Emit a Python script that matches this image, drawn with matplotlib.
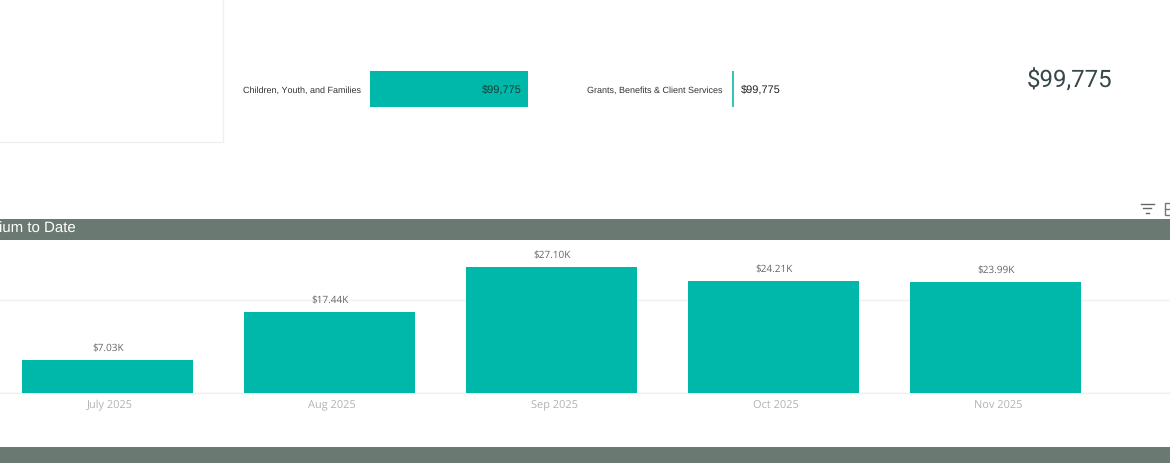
import matplotlib
matplotlib.use("Agg")
import matplotlib.pyplot as plt
from matplotlib.patches import Rectangle
from matplotlib.transforms import ScaledTranslation

# Data
months = ["July 2025", "Aug 2025", "Sep 2025", "Oct 2025", "Nov 2025"]
premium = [7.03, 17.44, 27.10, 24.21, 23.99]
premium_labels = ["$7.03K", "$17.44K", "$27.10K", "$24.21K", "$23.99K"]
grid_ticks = [0, 20]
program_name = ["Children, Youth, and Families"]
program_value = [99775]
category_name = ["Grants, Benefits & Client Services"]
category_value = [99775]
total_label = "$99,775"
value_label = "$99,775"
header_title = "ium to Date"

W, H = 1170, 463
TEAL = "#00b8aa"
BAND = "#6b7973"
plt.rcParams["font.family"] = ["Liberation Sans", "DejaVu Sans"]
plt.rcParams["text.hinting"] = "no_hinting"
plt.rcParams["text.hinting_factor"] = 1


def px_axes(fig, left, top, right, bottom):
    # axes position given in image pixels
    return fig.add_axes([left / W, 1 - bottom / H, (right - left) / W, (bottom - top) / H])


fig = plt.figure(figsize=(W / 100, H / 100), dpi=100, facecolor="white")
# text sits about a pixel high without hinting
down = ScaledTranslation(0, -1 / 100, fig.dpi_scale_trans)

# background layer in pixel coordinates: panel, header bands, icons, text
bg = fig.add_axes([0, 0, 1, 1])
bg.set_xlim(0, W)
bg.set_ylim(H, 0)
bg.axis("off")
bg.plot([0, 222.5, 222.5], [142, 142, 0], color="#efefef", lw=0.9)
bg.add_patch(Rectangle((0, 219), W, 21, color=BAND, lw=0))
bg.add_patch(Rectangle((0, 447), W, 16, color=BAND, lw=0))
bg.text(-1, 228.5, header_title, color="white", fontsize=10.5, va="center", ha="left")
bg.text(1112, 80.5, total_label, color="#37474a", fontsize=17, va="center", ha="right",
        family="Roboto")

# filter icon and the cut-off icon beside it
for half, y in [(6.5, 203.5), (4, 208), (1.5, 212.5)]:
    bg.plot([1147 - half, 1147 + half], [y, y], color="#666666", lw=1)
bg.add_patch(Rectangle((1165, 203), 10, 12, fill=False, ec="#777777", lw=1))
bg.plot([1165, 1170], [209, 209], color="#777777", lw=1)

# monthly columns
ax = px_axes(fig, 0, 240, W, 392.5)
ax.patch.set_alpha(0)
ax.bar(range(len(months)), premium, width=171 / 222, color=TEAL, zorder=3)
ax.set_xlim(-107.5 / 222, (W - 107.5) / 222)
ax.set_ylim(0, 152.5 / 4.613)
ax.set_yticks(grid_ticks)
ax.grid(axis="y", color="#f0f0f0", lw=1, zorder=0)
ax.tick_params(axis="y", left=False, labelleft=False)
ax.set_xticks(range(len(months)))
ax.set_xticklabels(months, family="Open Sans", fontsize=7.7, color="#b3b3b3")
ax.tick_params(axis="x", length=0, pad=5.5)
for lab in ax.get_xticklabels():
    lab.set_transform(lab.get_transform() + ScaledTranslation(2.5 / 100, 0, fig.dpi_scale_trans))
for side in ["top", "left", "right"]:
    ax.spines[side].set_visible(False)
ax.spines["bottom"].set_color("#f0f0f0")
ax.spines["bottom"].set_linewidth(1)
for i, v in enumerate(premium):
    ax.annotate(premium_labels[i], (i, v), xytext=(0.3, 4.6), textcoords="offset points",
                ha="center", va="bottom", family="Open Sans", fontsize=7, color="#666666")

# program bar
ax_prog = px_axes(fig, 370, 71, 528, 107)
ax_prog.barh(program_name, program_value, height=1, color=TEAL)
ax_prog.set_xlim(0, max(program_value))
ax_prog.margins(y=0)
ax_prog.set_xticks([])
ax_prog.tick_params(axis="y", length=0, pad=6.5, labelsize=6.6, labelcolor="#333333")
for lab in ax_prog.get_yticklabels():
    lab.set_transform(lab.get_transform() + down)
for side in ax_prog.spines:
    ax_prog.spines[side].set_visible(False)
ax_prog.text(program_value[0] * 0.957, 0, value_label, ha="right", va="center",
             fontsize=8.1, color="#1c3a38", transform=ax_prog.transData + down)

# category bar, squeezed to a thin line
ax_cat = px_axes(fig, 732, 71, 733.5, 107)
ax_cat.barh(category_name, category_value, height=1, color="#35c4b9")
ax_cat.set_xlim(0, max(category_value))
ax_cat.margins(y=0)
ax_cat.set_xticks([])
ax_cat.tick_params(axis="y", length=0, pad=6.5, labelsize=6.6, labelcolor="#333333")
for lab in ax_cat.get_yticklabels():
    lab.set_transform(lab.get_transform() + down)
for side in ax_cat.spines:
    ax_cat.spines[side].set_visible(False)
ax_cat.annotate(value_label, (1, 0.5), xycoords="axes fraction", xytext=(5.5, -0.7),
                textcoords="offset points", ha="left", va="center", fontsize=8.1, color="#222222")

fig.savefig("out.png", dpi=100)
